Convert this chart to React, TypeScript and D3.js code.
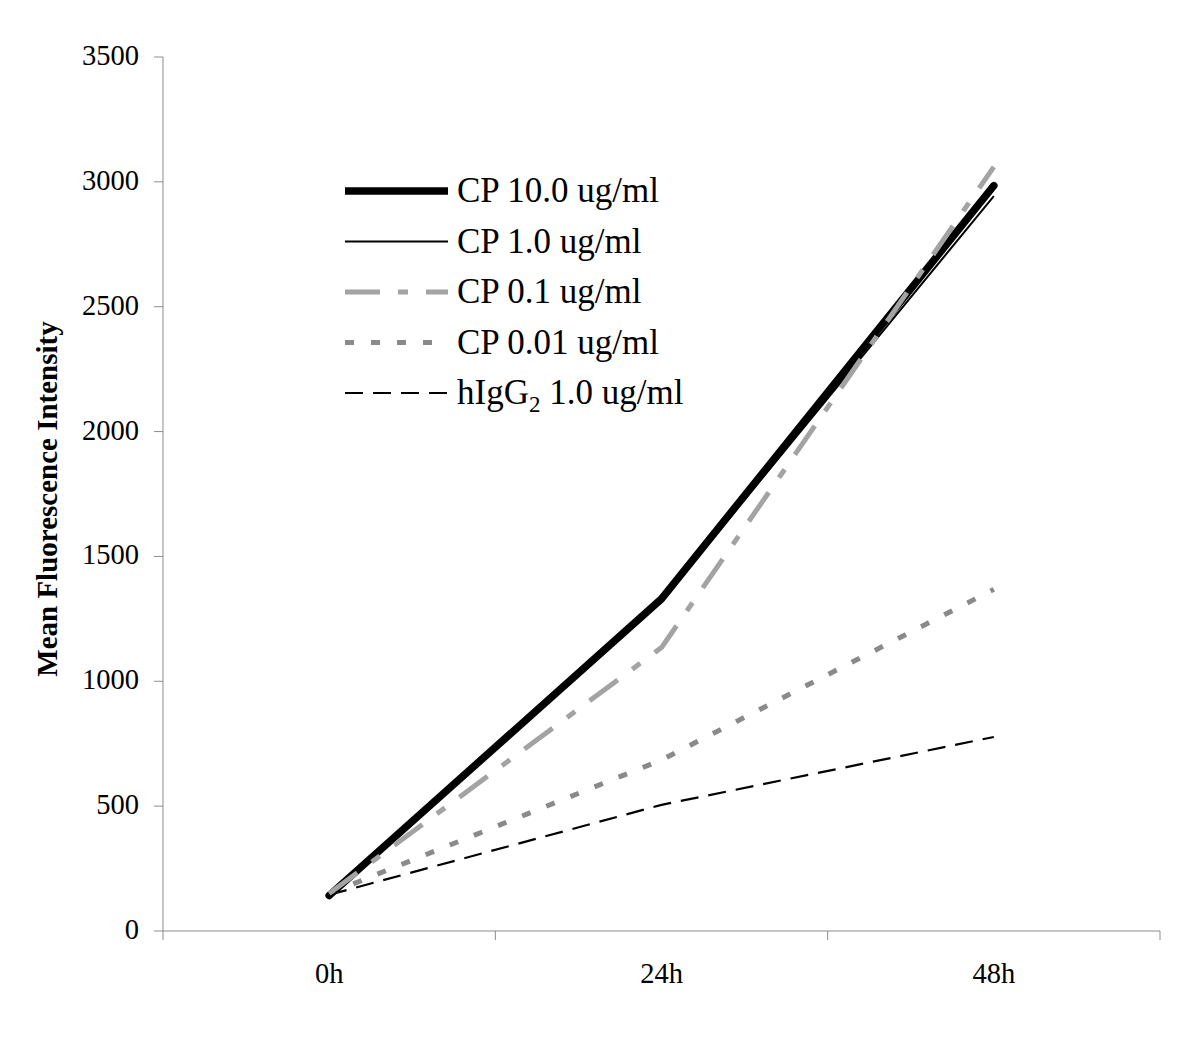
import { useEffect, useRef } from 'react'
import * as d3 from 'd3'

const timepoints = ['0h', '24h', '48h']
const cp10 = [142, 1330, 2985]
const cp1 = [142, 1322, 2943]
const cp01 = [150, 1135, 3060]
const cp001 = [150, 685, 1368]
const higg2 = [145, 505, 777]
const yTicks = [0, 500, 1000, 1500, 2000, 2500, 3000, 3500]

const seriesNames = ['CP 10.0 ug/ml', 'CP 1.0 ug/ml', 'CP 0.1 ug/ml', 'CP 0.01 ug/ml', 'hIgG2 1.0 ug/ml']

export default function App() {
  const ref = useRef<SVGSVGElement>(null)

  useEffect(() => {
    const svg = d3.select(ref.current)
    svg.selectAll('*').remove()

    const font = '"Liberation Serif", "Times New Roman", serif'
    const axisColor = '#8c8c8c'

    const x = d3.scaleBand().domain(timepoints).range([163, 1160])
    const y = d3.scaleLinear().domain([0, 3500]).range([931, 57])
    const cx = (d: string) => (x(d) as number) + x.bandwidth() / 2

    const styles = [
      { data: cp10, color: '#000', width: 7.5, dash: null, cap: 'round' },
      { data: cp1, color: '#000', width: 2, dash: null, cap: 'butt' },
      { data: cp01, color: '#a3a3a3', width: 5, dash: '35,18,10,18', cap: 'butt' },
      { data: cp001, color: '#8a8a8a', width: 5, dash: '9,17', cap: 'butt' },
      { data: higg2, color: '#000', width: 2.2, dash: '18,10', cap: 'butt' },
    ]

    // axes
    const g = svg.append('g')
    g.append('line')
      .attr('x1', 163).attr('x2', 163)
      .attr('y1', y(3500)).attr('y2', y(0))
      .attr('stroke', axisColor).attr('stroke-width', 1)
    g.append('line')
      .attr('x1', 163).attr('x2', 1160)
      .attr('y1', y(0)).attr('y2', y(0))
      .attr('stroke', axisColor).attr('stroke-width', 1)

    g.selectAll('.ytick')
      .data(yTicks)
      .enter()
      .append('line')
      .attr('x1', 154).attr('x2', 163)
      .attr('y1', (d) => y(d)).attr('y2', (d) => y(d))
      .attr('stroke', axisColor)

    g.selectAll('.ylabel')
      .data(yTicks)
      .enter()
      .append('text')
      .attr('x', 139)
      .attr('y', (d) => y(d) + 8)
      .attr('text-anchor', 'end')
      .style('font-family', font)
      .style('font-size', '28.5px')
      .text((d) => d)

    const bounds = [...timepoints.map((t) => x(t) as number), 1160]
    g.selectAll('.xtick')
      .data(bounds)
      .enter()
      .append('line')
      .attr('x1', (d) => d).attr('x2', (d) => d)
      .attr('y1', y(0)).attr('y2', y(0) + 9)
      .attr('stroke', axisColor)

    g.selectAll('.xlabel')
      .data(timepoints)
      .enter()
      .append('text')
      .attr('x', (d) => cx(d))
      .attr('y', 983)
      .attr('text-anchor', 'middle')
      .style('font-family', font)
      .style('font-size', '28.5px')
      .text((d) => d)

    g.append('text')
      .attr('transform', 'translate(57,499) rotate(-90)')
      .attr('text-anchor', 'middle')
      .style('font-family', font)
      .style('font-size', '29px')
      .style('font-weight', 'bold')
      .text('Mean Fluorescence Intensity')

    // lines
    const line = d3
      .line<number>()
      .x((_, i) => cx(timepoints[i]))
      .y((d) => y(d))

    const drawOrder = [4, 3, 1, 0, 2]
    drawOrder.forEach((i) => {
      const s = styles[i]
      svg.append('path')
        .attr('d', line(s.data))
        .attr('fill', 'none')
        .attr('stroke', s.color)
        .attr('stroke-width', s.width)
        .attr('stroke-dasharray', s.dash)
        .attr('stroke-linecap', s.cap)
        .attr('stroke-linejoin', 'round')
    })

    // legend
    const legend = svg.append('g')
    styles.forEach((s, i) => {
      const ly = 191 + i * 50.5
      legend.append('line')
        .attr('x1', 345).attr('x2', 448)
        .attr('y1', ly).attr('y2', ly)
        .attr('stroke', s.color)
        .attr('stroke-width', s.width)
        .attr('stroke-dasharray', s.dash)
      const t = legend.append('text')
        .attr('x', 457)
        .attr('y', ly + 11)
        .style('font-family', font)
        .style('font-size', '35px')
      if (i === 4) {
        t.append('tspan').text('hIgG')
        t.append('tspan').attr('dy', 8).style('font-size', '23px').text('2')
        t.append('tspan').attr('dy', -8).text(' 1.0 ug/ml')
      } else {
        t.text(seriesNames[i])
      }
    })
  }, [])

  return (
    <svg
      ref={ref}
      width={1200}
      height={1039}
      style={{ position: 'absolute', left: 0, top: 0, background: '#fff' }}
    />
  )
}
